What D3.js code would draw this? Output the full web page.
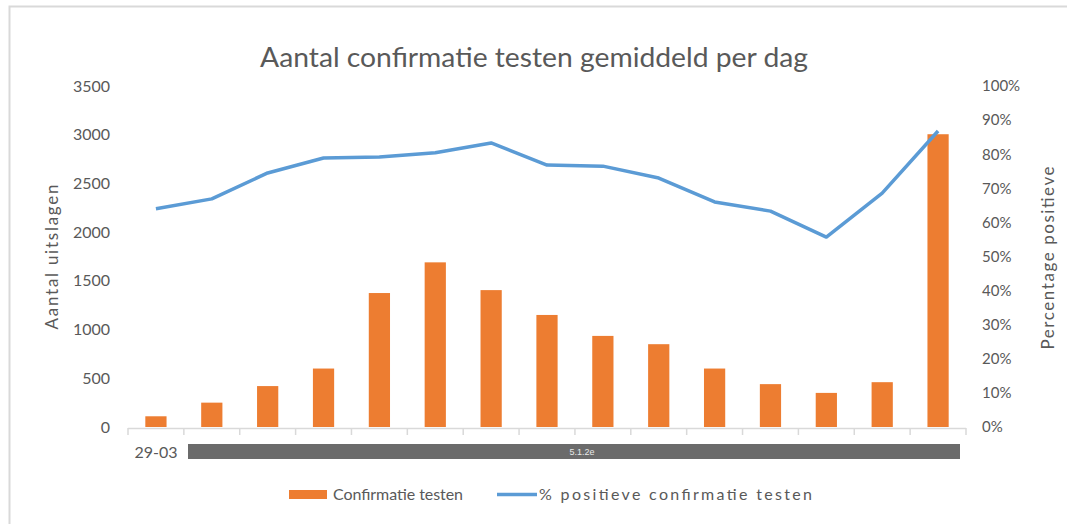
<!DOCTYPE html>
<meta charset="utf-8">
<script src="https://d3js.org/d3.v7.min.js"></script>
<style>
body{margin:0;background:#fff;}
text{font-family:Lato,"Open Sans",sans-serif;fill:#595959;}
</style>
<body>
<script>
var categories=[1,2,3,4,5,6,7,8,9,10,11,12,13,14,15];
var xLabels=["29-03","","","","","","","","","","","","","",""];
var testen=[110,250,420,600,1375,1690,1405,1150,935,850,600,440,350,460,3005];
var positief=[64.0,66.9,74.5,78.9,79.2,80.4,83.3,76.8,76.5,73.0,66.0,63.3,55.7,68.6,86.8];
var leftTicks=[0,500,1000,1500,2000,2500,3000,3500];
var rightTicks=[0,10,20,30,40,50,60,70,80,90,100];

var svg=d3.select("body").append("svg").attr("width",1067).attr("height",524);

// rand rond de grafiek
svg.append("rect").attr("x",9.5).attr("y",6.5).attr("width",1100).attr("height",600)
   .attr("fill","none").attr("stroke","#d9d9d9").attr("stroke-width",2);

var x=d3.scaleBand().domain(categories).range([128,966]);
var yL=d3.scaleLinear().domain([0,3500]).range([427,86]);
var yR=d3.scaleLinear().domain([0,100]).range([427,86]);

svg.append("text").attr("x",534).attr("y",67).attr("text-anchor","middle")
   .attr("textLength",548).attr("lengthAdjust","spacingAndGlyphs")
   .style("font-size","27px").text("Aantal confirmatie testen gemiddeld per dag");

// linker as
var gl=svg.append("g").attr("transform","translate(110,0)")
   .call(d3.axisLeft(yL).tickValues(leftTicks).tickFormat(d3.format("d")).tickSize(0).tickPadding(0));
gl.select(".domain").remove();
gl.selectAll("text").style("font-size","16px").style("font-family","Lato,sans-serif").attr("fill","#595959");

// rechter as
var gr=svg.append("g").attr("transform","translate(982,0)")
   .call(d3.axisRight(yR).tickValues(rightTicks).tickFormat(function(d){return d+"%";}).tickSize(0).tickPadding(0));
gr.select(".domain").remove();
gr.selectAll("text").style("font-size","15px").style("font-family","Lato,sans-serif").attr("fill","#595959");

svg.append("text").attr("transform","translate(58,257) rotate(-90)").attr("text-anchor","middle")
   .attr("textLength",145).style("font-size","17px").text("Aantal uitslagen");
svg.append("text").attr("transform","translate(1054,258) rotate(-90)").attr("text-anchor","middle")
   .attr("textLength",183).style("font-size","17px").text("Percentage positieve");

// x-as
var bw=x.bandwidth()*0.38;
svg.append("line").attr("x1",128).attr("x2",966).attr("y1",428.5).attr("y2",428.5)
   .attr("stroke","#d9d9d9").attr("stroke-width",1.5);
svg.selectAll(".tick-x").data(categories.concat([16])).enter().append("line")
   .attr("x1",function(d,i){return i<15?x(d):966;}).attr("x2",function(d,i){return i<15?x(d):966;})
   .attr("y1",428).attr("y2",435).attr("stroke","#d9d9d9").attr("stroke-width",1.5);
svg.selectAll(".xl").data(categories).enter().append("text")
   .attr("x",function(d){return x(d)+x.bandwidth()/2;}).attr("y",458).attr("text-anchor","middle")
   .style("font-size","16px").text(function(d,i){return xLabels[i];});

svg.append("rect").attr("x",188).attr("y",444).attr("width",772).attr("height",15).attr("fill","#6b6b6b");
svg.append("text").attr("x",582).attr("y",455).attr("text-anchor","middle")
   .style("font-size","9px").style("font-family","Liberation Sans,sans-serif").style("fill","#e8e8e8").text("5.1.2e");

// staven
svg.selectAll(".bar").data(testen).enter().append("rect")
   .attr("x",function(d,i){return x(categories[i])+(x.bandwidth()-bw)/2;})
   .attr("y",function(d){return yL(d);})
   .attr("width",bw).attr("height",function(d){return yL(0)-yL(d);})
   .attr("fill","#ed7d31");

// lijn
var line=d3.line().x(function(d,i){return x(categories[i])+x.bandwidth()/2;}).y(function(d){return yR(d);});
svg.append("path").datum(positief).attr("d",line).attr("fill","none")
   .attr("stroke","#5b9bd5").attr("stroke-width",3.5).attr("stroke-linejoin","round");

// legenda
svg.append("rect").attr("x",289).attr("y",490).attr("width",38).attr("height",9).attr("fill","#ed7d31");
svg.append("text").attr("x",333).attr("y",500).attr("textLength",130).style("font-size","16px").text("Confirmatie testen");
svg.append("line").attr("x1",497).attr("x2",537).attr("y1",494.5).attr("y2",494.5)
   .attr("stroke","#5b9bd5").attr("stroke-width",3.5);
svg.append("text").attr("x",539).attr("y",500).attr("textLength",273).style("font-size","16px").text("% positieve confirmatie testen");
</script>
</body>
</html>
